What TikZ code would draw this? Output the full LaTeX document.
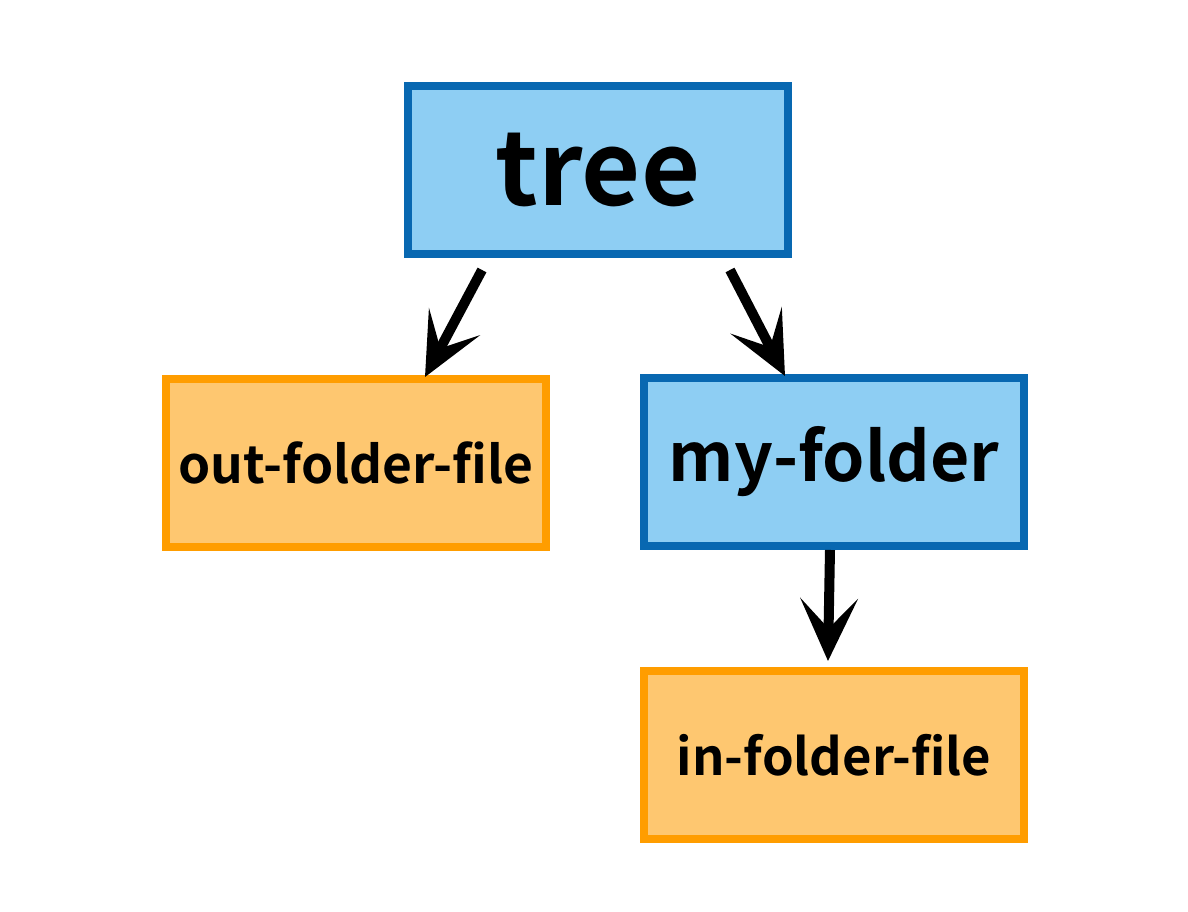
\documentclass[tikz,border=0pt]{standalone}
\usepackage{fontspec}
\setmainfont{Noto Sans CJK JP}[BoldFont={Noto Sans CJK JP Bold}]
\usetikzlibrary{arrows.meta,calc}
\definecolor{dirfill}{RGB}{142,206,243}
\definecolor{dirline}{RGB}{8,104,177}
\definecolor{filefill}{RGB}{254,199,112}
\definecolor{fileline}{RGB}{255,157,0}
\begin{document}
\begin{tikzpicture}[x=0.02cm,y=0.02cm,
  folder/.style={draw=dirline,fill=dirfill,line width=0.16cm,minimum width=7.6cm,minimum height=3.36cm,inner sep=0pt},
  file/.style={draw=fileline,fill=filefill,line width=0.16cm,minimum width=7.6cm,minimum height=3.36cm,inner sep=0pt},
  arr/.style={line width=0.2cm,-{Stealth[length=1.25cm,width=1.15cm,inset=0.6cm]}}]
\useasboundingbox (0,0) rectangle (1188,-912);
\node[folder,font=\bfseries\fontsize{58}{62}\selectfont] (tree) at (598,-170) {tree};
\node[file,font=\bfseries\fontsize{29.3}{33}\selectfont] (out) at (356,-463) {out-folder-file};
\node[folder,font=\bfseries\fontsize{38.6}{42}\selectfont] (my) at (834,-462) {my-folder};
\node[file,font=\bfseries\fontsize{28.9}{33}\selectfont] (in) at (834,-755) {in-folder-file};
\draw[arr]($(tree.south)+(-116,-12)$)--($(out.north)+(69,-2)$);
\draw[arr]($(tree.south)+(132,-12)$)--($(my.north)+(-49,-2)$);
\draw[arr]($(my.south)+(-4,0)$)--($(in.north)+(-6,6)$);
\end{tikzpicture}
\end{document}
